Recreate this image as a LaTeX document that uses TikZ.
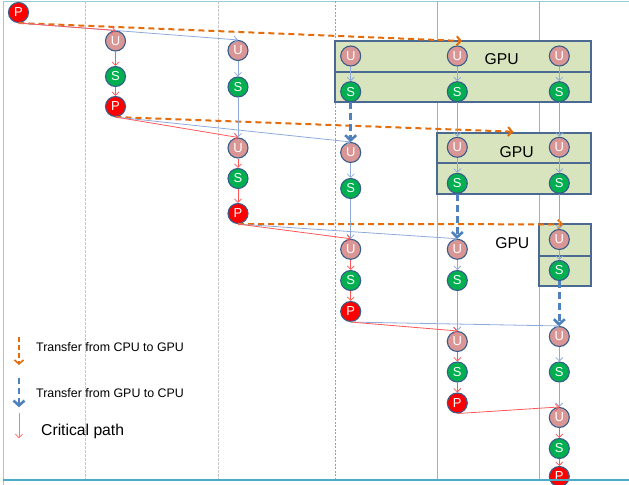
\documentclass[tikz,border=0pt]{standalone}
\usepackage{fontspec}
\setmainfont{Liberation Sans}
\usepackage{xcolor}
\usetikzlibrary{arrows.meta}
\definecolor{urose}{HTML}{D99694}
\definecolor{sgreen}{HTML}{00B050}
\definecolor{pred}{HTML}{FF0000}
\definecolor{nodeline}{HTML}{385D8A}
\definecolor{gpufill}{HTML}{D7E4BD}
\definecolor{gpuline}{HTML}{4A6A92}
\definecolor{xferorange}{HTML}{E46C0A}
\definecolor{xferblue}{HTML}{4F81BD}
\definecolor{thinblue}{HTML}{8EAADB}
\definecolor{critred}{HTML}{FF5757}
\definecolor{framecol}{HTML}{92CDDC}
\definecolor{framebot}{HTML}{4BACC6}
\definecolor{gridblue}{HTML}{86BBD0}

\begin{document}
\begin{tikzpicture}[x=1bp,y=-1bp]
    \tikzstyle{task} = [circle,draw=nodeline,line width=1.1bp,minimum size=20bp,inner sep=0pt,text=white,font=\fontsize{13bp}{13bp}\selectfont]
    \tikzstyle{unode} = [task,fill=urose]
    \tikzstyle{snode} = [task,fill=sgreen]
    \tikzstyle{pnode} = [task,fill=pred]
    \tikzstyle{gpubox} = [draw=gpuline,fill=gpufill,line width=1.8bp]
    \tikzstyle{dep} = [draw=thinblue,line width=0.8bp,-{Straight Barb[length=3.5bp,width=7bp]}]
    \tikzstyle{crit} = [draw=critred,line width=0.8bp,-{Straight Barb[length=3.5bp,width=7bp]}]
    \tikzstyle{togpu} = [draw=xferorange,line width=2bp,dash pattern=on 6bp off 4bp,-{Straight Barb[length=4bp,width=9bp]}]
    \tikzstyle{tocpu} = [draw=xferblue,line width=2.6bp,dash pattern=on 7bp off 4bp,-{Straight Barb[length=5bp,width=11bp]}]
    \tikzstyle{gpulabel} = [font=\fontsize{15.7bp}{18bp}\selectfont,inner sep=0pt]
    \tikzstyle{legendtext} = [font=\fontsize{12.4bp}{14bp}\selectfont,anchor=west,inner sep=0pt]

    \useasboundingbox (0,0) rectangle (629,485);

    % frame and time columns
    \draw[framecol,line width=1bp] (3.3,485) -- (3.3,1.5) -- (629,1.5);
    \draw[gray!45,line width=0.9bp,dash pattern=on 3bp off 1bp] (85.3,1.5) -- (85.3,480);
    \draw[gray!45,line width=0.9bp,dash pattern=on 3bp off 1bp] (218,1.5) -- (218,480);
    \draw[gray!75,line width=0.6bp,dash pattern=on 2bp off 1.5bp] (335.5,1.5) -- (335.5,480);
    \draw[gridblue,line width=0.8bp] (437.3,1.5) -- (437.3,480);
    \draw[gridblue,line width=0.8bp] (539,1.5) -- (539,480);

    % GPU boxes
    \draw[gpubox] (335,41) rectangle (591,71.7);
    \draw[gpubox] (335,71.7) rectangle (591,101.7);
    \draw[gpubox] (437.3,133.3) rectangle (591,163.3);
    \draw[gpubox] (437.3,163.3) rectangle (591,194);
    \draw[gpubox] (539,224.3) rectangle (591,256);
    \draw[gpubox] (539,256) rectangle (591,285.7);
    \node[gpulabel] (gpu1) at (501.7,59.3) {GPU};
    \node[gpulabel] (gpu2) at (516.7,151.7) {GPU};
    \node[gpulabel] (gpu3) at (512.3,243.3) {GPU};

    % tasks
    \node[pnode] (P0) at (18.5,12.5) {P};

    \node[unode] (U1) at (115.5,41) {U};
    \node[snode] (S1) at (115.5,76.5) {S};
    \node[pnode] (P1) at (115.5,106.5) {P};

    \node[unode] (U2a) at (238,50.5) {U};
    \node[snode] (S2a) at (238,87) {S};
    \node[unode] (U2b) at (238,148) {U};
    \node[snode] (S2b) at (238,178.5) {S};
    \node[pnode] (P2) at (238,213.5) {P};

    \node[unode] (U3a) at (350.7,56) {U};
    \node[snode] (S3a) at (350.7,91.7) {S};
    \node[unode] (U3b) at (350.7,152.5) {U};
    \node[snode] (S3b) at (350.7,188.5) {S};
    \node[unode] (U3c) at (350.7,249.3) {U};
    \node[snode] (S3c) at (350.7,280.5) {S};
    \node[pnode] (P3) at (350.7,311.5) {P};

    \node[unode] (U4a) at (457.3,56) {U};
    \node[snode] (S4a) at (457.3,91.7) {S};
    \node[unode] (U4b) at (457.3,147.3) {U};
    \node[snode] (S4b) at (457.3,183.3) {S};
    \node[unode] (U4c) at (457.3,249.3) {U};
    \node[snode] (S4c) at (457.3,280.5) {S};
    \node[unode] (U4d) at (457.3,341.5) {U};
    \node[snode] (S4d) at (457.3,372) {S};
    \node[pnode] (P4) at (457.3,403) {P};

    \node[unode] (U5a) at (559.3,56) {U};
    \node[snode] (S5a) at (559.3,91.7) {S};
    \node[unode] (U5b) at (559.3,147.3) {U};
    \node[snode] (S5b) at (559.3,183.3) {S};
    \node[unode] (U5c) at (559.3,239.5) {U};
    \node[snode] (S5c) at (559.3,270.5) {S};
    \node[unode] (U5d) at (559.3,336.5) {U};
    \node[snode] (S5d) at (559.3,372) {S};
    \node[unode] (U5e) at (559.3,417.5) {U};
    \node[snode] (S5e) at (559.3,448.5) {S};
    \node[pnode] (P5) at (559.3,476.5) {P};

    % transfers to the GPU
    \coordinate (g1) at (462,41);
    \coordinate (g2) at (513.3,131.7);
    \coordinate (g3) at (563.3,224.3);
    \draw[togpu] (P0.south) -- (g1);
    \draw[togpu] (P1.south) -- (g2);
    \draw[togpu] (P2.south) -- (g3);

    % plain dependencies
    \draw[dep] (P0.south) -- (U2a.north);
    \draw[dep] (U2a) -- (S2a);
    \draw[dep] (S2a) -- (U2b);
    \draw[dep] (P1.south) -- (U3b.north);
    \draw[dep] (U3a) -- (S3a);
    \draw[dep] (U3b) -- (S3b);
    \draw[dep] (S3b) -- (U3c);
    \draw[dep] (P2.south) -- (U4c.north);
    \draw[dep] (U4a) -- (S4a);
    \draw[dep] (S4a) -- (U4b);
    \draw[dep] (U4b) -- (S4b);
    \draw[dep] (U4c) -- (S4c);
    \draw[dep] (S4c) -- (U4d);
    \draw[dep] (P3.south) -- (U5d.north);
    \draw[dep] (U5a) -- (S5a);
    \draw[dep] (S5a) -- (U5b);
    \draw[dep] (U5b) -- (S5b);
    \draw[dep] (S5b) -- (U5c);
    \draw[dep] (U5c) -- (S5c);
    \draw[dep] (U5d) -- (S5d);
    \draw[dep] (S5d) -- (U5e);

    % critical path
    \draw[crit] (P0.south) -- (U1.north);
    \draw[crit] (U1) -- (S1);
    \draw[crit] (S1) -- (P1);
    \draw[crit] (P1.south) -- (U2b.north);
    \draw[crit] (U2b) -- (S2b);
    \draw[crit] (S2b) -- (P2);
    \draw[crit] (P2.south) -- (U3c.north);
    \draw[crit] (U3c) -- (S3c);
    \draw[crit] (S3c) -- (P3);
    \draw[crit] (P3.south) -- (U4d.north);
    \draw[crit] (U4d) -- (S4d);
    \draw[crit] (S4d) -- (P4);
    \draw[crit] (P4.south) -- (U5e.north);
    \draw[crit] (U5e) -- (S5e);
    \draw[crit] (S5e) -- (P5);

    % transfers back to the CPU
    \draw[tocpu] (S3a) -- (U3b);
    \draw[tocpu] (S4b) -- (U4c);
    \draw[tocpu] (S5c) -- (U5d);

    % legend
    \coordinate (la1) at (19,336.7);
    \coordinate (la2) at (19,365);
    \coordinate (lb1) at (19,377.7);
    \coordinate (lb2) at (19,407.3);
    \coordinate (lc1) at (19,413.3);
    \coordinate (lc2) at (19,438.3);
    \draw[togpu,line width=1.6bp,dash pattern=on 5bp off 3bp] (la1) -- (la2);
    \draw[tocpu,dash pattern=on 6bp off 4bp] (lb1) -- (lb2);
    \draw[crit,draw=critred!80] (lc1) -- (lc2);
    \node[legendtext] (lta) at (36,347.3) {Transfer from CPU to GPU};
    \node[legendtext] (ltb) at (36,393.3) {Transfer from GPU to CPU};
    \node[legendtext,font=\fontsize{15.7bp}{18bp}\selectfont] (ltc) at (41,431.7) {Critical path};

    \draw[framebot,line width=2.5bp] (3.3,480) -- (629,480);
\end{tikzpicture}
\end{document}
